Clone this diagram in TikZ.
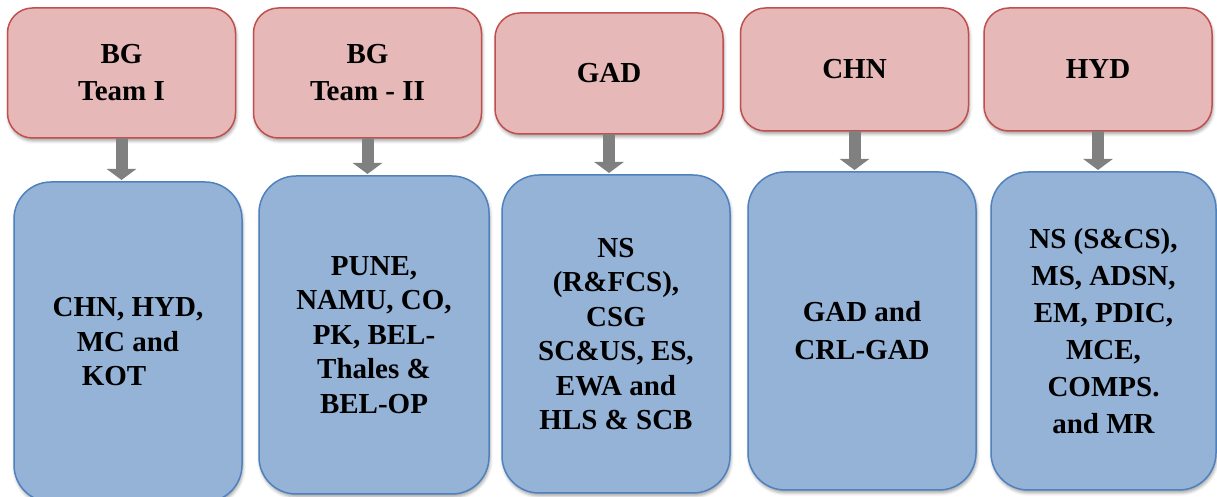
\documentclass[tikz,border=0pt]{standalone}
\usepackage{fontspec}
\setmainfont{Liberation Serif}
\usepackage{xcolor}
\usetikzlibrary{arrows.meta,shadows.blur}
\definecolor{headfill}{HTML}{E6B9B8}
\definecolor{headline}{HTML}{C0504D}
\definecolor{listfill}{HTML}{95B3D7}
\definecolor{listline}{HTML}{4F81BD}
\definecolor{arrowgray}{HTML}{808080}
\tikzset{
	headbox/.style={
			draw=headline, fill=headfill, line width=1.5pt,
			rounded corners=25pt, minimum width=228pt,
			inner sep=0pt, outer sep=0pt, align=center,
			font=\fontsize{29}{37}\selectfont\bfseries,
			blur shadow={shadow xshift=1pt, shadow yshift=-3pt, shadow blur radius=3pt, shadow opacity=35}
		},
	listbox/.style={
			draw=listline, fill=listfill, line width=1.5pt,
			rounded corners=37pt, minimum width=228pt, minimum height=318pt,
			inner sep=0pt, outer sep=0pt, align=center,
			font=\fontsize{29}{34.5}\selectfont\bfseries,
			blur shadow={shadow xshift=1pt, shadow yshift=-3pt, shadow blur radius=3pt, shadow opacity=35}
		},
	downarrow/.style={
			draw=arrowgray, line width=12pt, shorten >=2pt,
			-{Triangle[width=29pt,length=11pt]}
		}
}
\begin{document}
\begin{tikzpicture}[x=1pt,y=1pt]
	\useasboundingbox (0,0) rectangle (1217,497);

	% groups
	\node[headbox, minimum height=130pt] (head1) at (121.5,424) {BG\\Team I};
	\node[headbox, minimum height=130pt] (head2) at (367.5,424) {BG\\Team - II};
	\node[headbox, minimum height=121pt] (head3) at (609,423.5) {GAD};
	\node[headbox, minimum height=123pt] (head4) at (854.5,427.5) {CHN};
	\node[headbox, minimum height=123pt] (head5) at (1098,427.5) {HYD};

	% what each group covers
	\node[listbox, minimum height=320pt] (list1) at (128,155) {CHN, HYD,\\MC and\\KOT\hspace*{28pt}};
	\node[listbox, minimum width=230pt] (list2) at (374,162) {PUNE,\\NAMU, CO,\\PK, BEL-\\Thales \&\\BEL-OP};
	\node[listbox] (list3) at (616,163) {NS\\(R\&FCS),\\CSG\\SC\&US, ES,\\EWA and\\HLS \& SCB};
	\node[listbox, font=\fontsize{29}{38}\selectfont\bfseries] (list4) at (862,166) {GAD and\\CRL-GAD};
	\node[listbox, minimum width=225pt, font=\fontsize{29}{37}\selectfont\bfseries] (list5) at (1103.5,166) {NS (S\&CS),\\MS, ADSN,\\EM, PDIC,\\MCE,\\COMPS.\\and MR};

	\foreach \i in {1,...,5}
	\draw[downarrow] (head\i.south) -- (head\i.south |- list\i.north);

\end{tikzpicture}
\end{document}
